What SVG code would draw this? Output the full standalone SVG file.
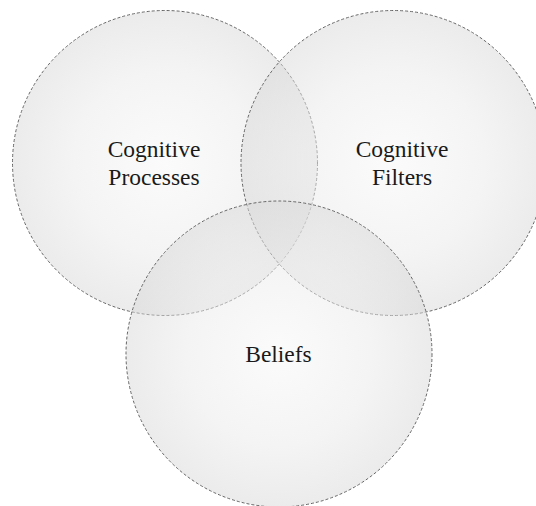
<svg xmlns="http://www.w3.org/2000/svg" width="536" height="506" viewBox="0 0 536 506">
  <defs>
    <radialGradient id="g" cx="0.5" cy="0.5" r="0.5">
      <stop offset="0" stop-color="#f7f7f7"/>
      <stop offset="0.6" stop-color="#e9e9e9"/>
      <stop offset="1" stop-color="#d8d8d8"/>
    </radialGradient>
  </defs>
  <style>
    .c { fill: url(#g); fill-opacity: 0.5; stroke: #666; stroke-width: 1; stroke-dasharray: 3 2; }
    .t { font-family: "Liberation Serif", "Times New Roman", serif; font-size: 23.5px; fill: #1a1a1a; text-anchor: middle; }
  </style>
  <rect width="536" height="506" fill="#ffffff"/>
  <g id="cognitive-processes">
    <circle class="c" cx="165" cy="163" r="152.5"/>
  </g>
  <g id="cognitive-filters">
    <circle class="c" cx="393.5" cy="163" r="152.5"/>
  </g>
  <g id="beliefs">
    <circle class="c" cx="279" cy="354" r="153"/>
  </g>
  <g id="labels">
    <text class="t" x="154" y="157">Cognitive</text>
    <text class="t" x="154" y="185">Processes</text>
    <text class="t" x="402" y="157">Cognitive</text>
    <text class="t" x="402" y="185">Filters</text>
    <text class="t" x="278.5" y="362">Beliefs</text>
  </g>
</svg>
